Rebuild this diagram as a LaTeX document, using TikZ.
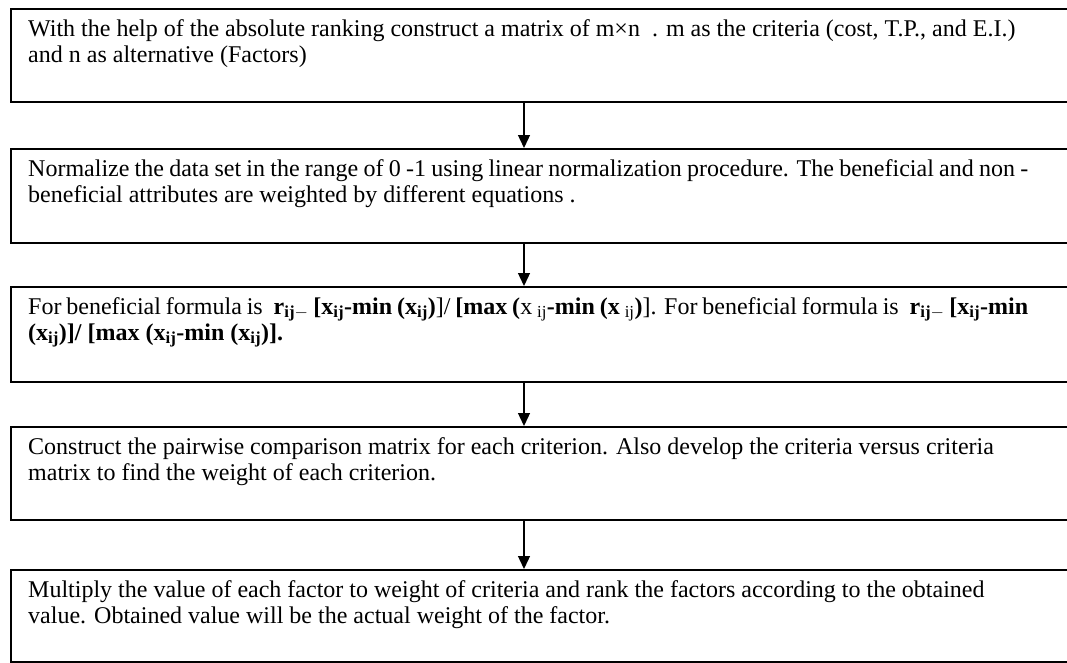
\documentclass[tikz,border=0pt]{standalone}
\usepackage{fontspec}
\setmainfont{Liberation Serif}
\usetikzlibrary{arrows.meta,calc}
\begin{document}
\begin{tikzpicture}[x=1pt,y=1pt,
  frame/.style={draw=black, line width=1.6pt, anchor=north west, minimum width=1075pt, inner sep=0pt},
  txt/.style={anchor=base west, inner sep=0pt, text width=1000pt, align=justify, font=\fontsize{24}{26}\selectfont},
  arr/.style={draw=black, line width=1.3pt, -{Triangle[width=12pt,length=13pt]}}]
\useasboundingbox (0,0) rectangle (1067,-662);
\node[frame, minimum height=93pt] (b1) at (10,-8) {};
\node[frame, minimum height=94pt] (b2) at (10,-148) {};
\node[frame, minimum height=95pt] (b3) at (10,-286) {};
\node[frame, minimum height=93pt] (b4) at (10,-426) {};
\node[frame, minimum height=92pt] (b5) at (10,-569) {};
\coordinate (ax) at (524,0);
\node[txt] (t1) at ($(b1.north west)+(18,-28)$) {With the help of the absolute ranking construct a matrix of m×n\hspace{12pt}. m as the criteria (cost, T.P., and E.I.)\newline and n as alternative (Factors)};
\node[txt] (t2) at ($(b2.north west)+(18,-28)$) {Normalize the data set in the range of 0 -1 using linear normalization procedure. The beneficial and non -\linebreak beneficial attributes are weighted by different equations .};
\node[txt] (t3) at ($(b3.north west)+(18,-28)$) {For beneficial formula is\hspace{6pt} \textbf{r}$_{\mathbf{ij-}}$ \textbf{[x}$_{\mathbf{ij}}$\textbf{-min (x}$_{\mathbf{ij}}$\textbf{)}]/ \textbf{[max (}x $_{\mathrm{ij}}$\textbf{-min (x} $_{\mathrm{ij}}$\textbf{)}]. For beneficial formula is\hspace{6pt} \textbf{r}$_{\mathbf{ij-}}$ \textbf{[x}$_{\mathbf{ij}}$\textbf{-min}\linebreak \textbf{(x}$_{\mathbf{ij}}$\textbf{)]/ [max (x}$_{\mathbf{ij}}$\textbf{-min (x}$_{\mathbf{ij}}$\textbf{)].}};
\node[txt] (t4) at ($(b4.north west)+(18,-28)$) {Construct the pairwise comparison matrix for each criterion. Also develop the criteria versus criteria\newline matrix to find the weight of each criterion.};
\node[txt] (t5) at ($(b5.north west)+(18,-28)$) {Multiply the value of each factor to weight of criteria and rank the factors according to the obtained\newline value. Obtained value will be the actual weight of the factor.};
\draw[arr] (b1.south west -| ax) -- (b2.north west -| ax);
\draw[arr] (b2.south west -| ax) -- (b3.north west -| ax);
\draw[arr] (b3.south west -| ax) -- (b4.north west -| ax);
\draw[arr] (b4.south west -| ax) -- (b5.north west -| ax);
\end{tikzpicture}
\end{document}
